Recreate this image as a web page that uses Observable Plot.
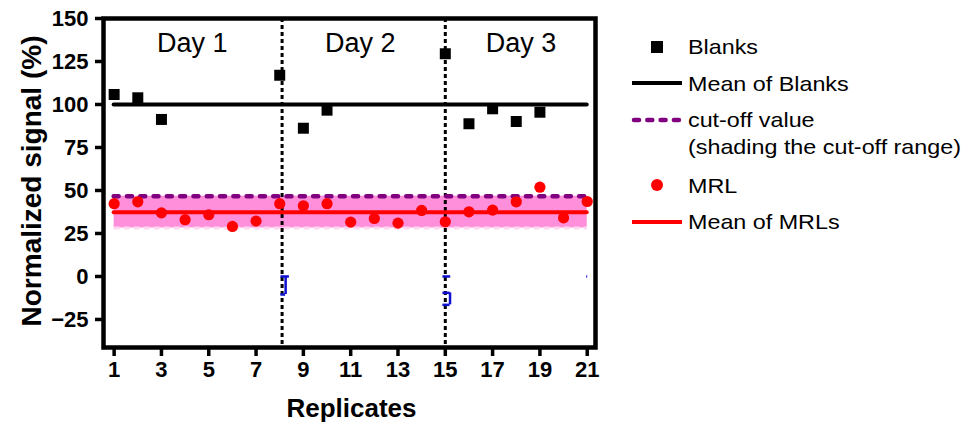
<!DOCTYPE html>
<html><head><meta charset="utf-8">
<script src="https://cdn.jsdelivr.net/npm/d3@7"></script>
<script src="https://cdn.jsdelivr.net/npm/@observablehq/plot@0.6"></script>
<style>
body{margin:0;background:#fff;}
#wrap{position:relative;width:976px;height:422px;font-family:Arial,"Liberation Sans",sans-serif;}
#wrap svg{display:block;}
.lg{position:absolute;font-size:21px;color:#000;line-height:27px;white-space:nowrap;transform:scaleX(1.11);transform-origin:0 50%;}
.sw{position:absolute;}
</style></head><body><div id="wrap"></div>
<script>
// ---- data ----
const mrlReplicates = [1,2,3,4,5,6,7,8,9,10,11,12,13,14,15,16,17,18,19,20,21];
const mrlValues = [42.3,43.4,37.0,33.0,35.9,29.1,32.2,42.3,41.1,42.3,31.6,33.7,31.0,38.4,31.8,37.6,38.6,43.4,51.9,34.1,43.6];
const blankReplicates = [1,2,3,8,9,10,15,16,17,18,19];
const blankValues = [105.8,103.9,91.3,117.0,86.2,96.7,129.5,88.8,97.5,90.1,95.5];
const meanBlanks = 100;
const meanMRL = 37.4;
const cutOffValue = 46.7;
const cutOffLow = 28.2;
const dayBreaks = [8.1, 15];
const dayLabels = ["Day 1", "Day 2", "Day 3"];
const dayLabelX = [4.3, 11.4, 18.2];
const dayLabelY = 135.5;
const xTicks = [1,3,5,7,9,11,13,15,17,19,21];
const yTicks = [-25,0,25,50,75,100,125,150];
// small blue error-bar remnants
const blueCapY = [0, -10.5, 0, -9.5, -16.5, 0];
const blueCapX1 = [8.05, 8.05, 14.9, 14.9, 14.9, 20.98];
const blueCapX2 = [8.41, 8.25, 15.23, 15.2, 15.2, 21.02];
const blueStemX = [8.25, 15.2];
const blueStemY1 = [0, -9.5];
const blueStemY2 = [-10.5, -16.5];

const mrl = mrlReplicates.map((r,i)=>({x:r,y:mrlValues[i]}));
const blanks = blankReplicates.map((r,i)=>({x:r,y:blankValues[i]}));
const caps = blueCapY.map((y,i)=>({y, x1:blueCapX1[i], x2:blueCapX2[i]}));
const stems = blueStemX.map((x,i)=>({x, y1:blueStemY1[i], y2:blueStemY2[i]}));
const band = [{lo:cutOffLow, hi:cutOffValue}];
const days = dayLabels.map((t,i)=>({t, x:dayLabelX[i], y:dayLabelY}));

const chart = Plot.plot({
  width: 976, height: 422,
  marginLeft: 103, marginRight: 381, marginTop: 18, marginBottom: 75,
  x: {domain: [0.55, 21.35]},
  y: {domain: [-41.3, 150]},
  style: {fontFamily: "Arial, 'Liberation Sans', sans-serif", fontSize: "21px", color: "#000", background: "#fff", overflow: "visible"},
  marks: [
    Plot.rect(band, {x1: 1, x2: 21, y1: "lo", y2: "hi", fill: "#ff8fdb"}),
    Plot.ruleY([cutOffLow], {x1: 1, x2: 21, stroke: "#ffd6f0", strokeWidth: 3, strokeDasharray: "6,4"}),
    Plot.ruleX(dayBreaks, {stroke: "#000", strokeWidth: 3, strokeDasharray: "4,3"}),
    Plot.ruleY([cutOffValue], {x1: 1, x2: 21, stroke: "#800080", strokeWidth: 4.5, strokeDasharray: "5,8.3", strokeLinecap: "round"}),
    Plot.ruleY([meanMRL], {x1: 1, x2: 21, stroke: "#ff0000", strokeWidth: 4, strokeLinecap: "round"}),
    Plot.ruleY([meanBlanks], {x1: 1, x2: 21, stroke: "#000", strokeWidth: 4, strokeLinecap: "round"}),
    Plot.ruleY(caps, {y: "y", x1: "x1", x2: "x2", stroke: "#1010d0", strokeWidth: 2.5}),
    Plot.ruleX(stems, {x: "x", y1: "y1", y2: "y2", stroke: "#1010d0", strokeWidth: 2.5}),
    Plot.dot(mrl, {x: "x", y: "y", r: 5.6, fill: "#ff0000", stroke: "none"}),
    Plot.dot(blanks, {x: "x", y: "y", symbol: "square", r: 6.2, fill: "#000", stroke: "none"}),
    Plot.text(days, {x: "x", y: "y", text: "t", fontSize: 27, fontWeight: "normal"}),
    Plot.axisY(yTicks, {tickSize: 8, tickPadding: 7, stroke: "#000", strokeWidth: 3.5, strokeOpacity: 1, fontSize: 22, fontWeight: "bold", label: null}),
    Plot.axisX(xTicks, {tickSize: 9, tickPadding: 5, stroke: "#000", strokeWidth: 3.5, strokeOpacity: 1, fontSize: 22, fontWeight: "bold", label: null}),
    Plot.text(["Normalized signal (%)"], {frameAnchor: "left", dx: -71, dy: -2, rotate: -90, textAnchor: "middle", fontSize: 28, fontWeight: "bold", lineAnchor: "middle"}),
    Plot.text(["Replicates"], {frameAnchor: "bottom", dy: 61, dx: 2, textAnchor: "middle", fontSize: 26, fontWeight: "bold", lineAnchor: "middle"}),
    Plot.frame({stroke: "#000", strokeWidth: 4.5})
  ]
});
const wrap = document.getElementById("wrap");
wrap.appendChild(chart);

// ---- legend ----
const legendItems = [
  {label: "Blanks", kind: "square", cy: 46.7},
  {label: "Mean of Blanks", kind: "line", color: "#000", cy: 83.3},
  {label: "cut-off value<br>(shading the cut-off range)", kind: "dash", color: "#800080", cy: 119.5},
  {label: "MRL", kind: "circle", cy: 185},
  {label: "Mean of MRLs", kind: "line", color: "#ff0000", cy: 221.7}
];
for (const it of legendItems) {
  const sw = document.createElement("div");
  sw.className = "sw";
  if (it.kind === "square") {
    sw.style.cssText = `left:651px;top:${it.cy-6}px;width:12px;height:12px;background:#000;`;
  } else if (it.kind === "circle") {
    sw.style.cssText = `left:651px;top:${it.cy-6}px;width:12px;height:12px;border-radius:50%;background:#ff0000;`;
  } else if (it.kind === "line") {
    sw.style.cssText = `left:632px;top:${it.cy-2}px;width:50px;height:4px;background:${it.color};`;
  } else {
    sw.innerHTML = `<svg width="52" height="8"><line x1="3" y1="4" x2="50" y2="4" stroke="${it.color}" stroke-width="4.5" stroke-dasharray="5,8.3" stroke-linecap="round"/></svg>`;
    sw.style.cssText = `left:631px;top:${it.cy-4}px;`;
  }
  wrap.appendChild(sw);
  const t = document.createElement("div");
  t.className = "lg";
  t.innerHTML = it.label;
  t.style.left = "688px";
  t.style.top = (it.cy - 13.5) + "px";
  wrap.appendChild(t);
}
</script></body></html>
